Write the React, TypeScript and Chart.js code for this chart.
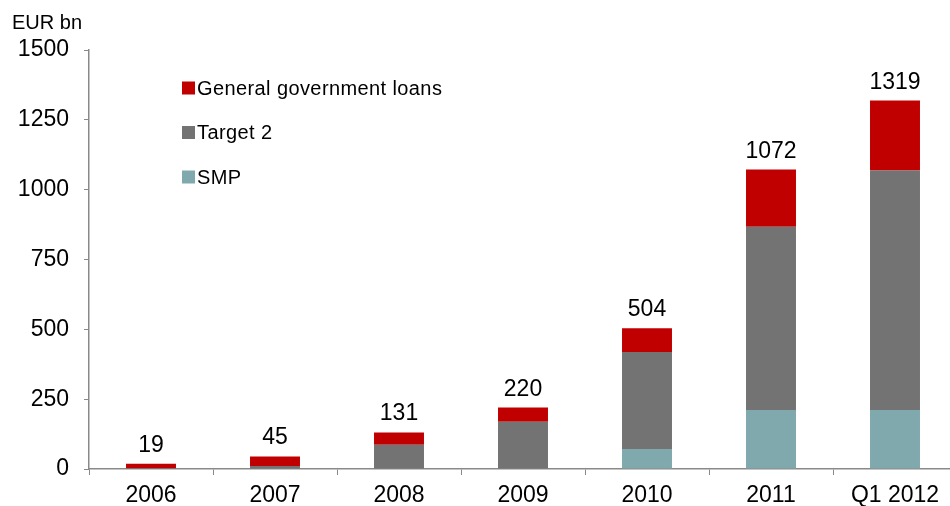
import { useEffect, useRef } from 'react';
import { Chart, registerables } from 'chart.js';

Chart.register(...registerables);

// Eurosystem exposure, EUR bn
const categories = ['2006', '2007', '2008', '2009', '2010', '2011', 'Q1 2012'];
const smp = [0, 0, 0, 0, 72, 211, 211];
const target2 = [3, 11, 87, 169, 347, 656, 858];
const ggLoans = [16, 34, 44, 51, 85, 205, 250];
const yTicks = [0, 250, 500, 750, 1000, 1250, 1500];

const FONT = "'Liberation Sans', Arial, Helvetica, sans-serif";
const RED = '#C00000';
const GREY = '#737373';
const TEAL = '#80A9AD';
const AXIS = '#898989';

const totalsPlugin = {
  id: 'stackTotals',
  afterDatasetsDraw(chart: any) {
    const { ctx } = chart;
    const yScale = chart.scales.y;
    const meta = chart.getDatasetMeta(0);
    ctx.save();
    ctx.font = `23px ${FONT}`;
    ctx.fillStyle = '#000';
    ctx.textAlign = 'center';
    ctx.textBaseline = 'alphabetic';
    categories.forEach((_, i) => {
      const total = chart.data.datasets.reduce((s: number, d: any) => s + d.data[i], 0);
      const x = meta.data[i].x;
      const y = yScale.getPixelForValue(total);
      ctx.fillText(String(total), x, y - 12);
    });
    ctx.restore();
  },
};

const legendPlugin = {
  id: 'insetLegend',
  afterDraw(chart: any) {
    const { ctx } = chart;
    const items = [...chart.data.datasets].reverse();
    ctx.save();
    ctx.font = `20px ${FONT}`;
    ctx.textBaseline = 'middle';
    ctx.textAlign = 'left';
    if ('letterSpacing' in ctx) (ctx as any).letterSpacing = '0.4px';
    items.forEach((d: any, i: number) => {
      const cy = 88 + i * 44.5;
      ctx.fillStyle = d.backgroundColor;
      ctx.fillRect(182, cy - 6.5, 13, 13);
      ctx.fillStyle = '#000';
      ctx.fillText(d.label, 197, cy + 1);
    });
    if ('letterSpacing' in ctx) (ctx as any).letterSpacing = '0px';
    // unit caption
    ctx.font = `20px ${FONT}`;
    ctx.fillText('EUR bn', 12, 23);
    ctx.restore();
  },
};

export default function App() {
  const canvasRef = useRef<HTMLCanvasElement | null>(null);

  useEffect(() => {
    const canvas = canvasRef.current;
    if (!canvas) return;
    const chart = new Chart(canvas, {
      type: 'bar',
      data: {
        labels: categories,
        datasets: [
          { label: 'SMP', data: smp, backgroundColor: TEAL },
          { label: 'Target 2', data: target2, backgroundColor: GREY },
          { label: 'General government loans', data: ggLoans, backgroundColor: RED },
        ],
      },
      options: {
        responsive: false,
        animation: false,
        devicePixelRatio: 1,
        layout: { padding: { top: 50, left: 0, right: 0, bottom: 0 } },
        datasets: {
          bar: { barPercentage: 0.403, categoryPercentage: 1 },
        },
        plugins: {
          legend: { display: false },
          tooltip: { enabled: false },
        },
        scales: {
          x: {
            stacked: true,
            grid: {
              display: true,
              drawOnChartArea: false,
              drawTicks: true,
              tickLength: 6,
              color: AXIS,
              offset: true,
            },
            border: { display: true, color: AXIS, width: 1.5 },
            ticks: {
              color: '#000',
              font: { family: FONT, size: 23 },
              padding: 7,
              maxRotation: 0,
            },
            afterFit(scale: any) {
              scale.height = 37;
            },
          },
          y: {
            stacked: true,
            min: 0,
            max: 1500,
            afterBuildTicks(scale: any) {
              scale.ticks = yTicks.map((v) => ({ value: v }));
            },
            grid: {
              display: true,
              drawOnChartArea: false,
              drawTicks: true,
              tickLength: 5,
              color: AXIS,
            },
            border: { display: true, color: AXIS, width: 1.5 },
            ticks: {
              color: '#000',
              font: { family: FONT, size: 23 },
              padding: 15,
              callback: (v: any) => String(v),
            },
            afterFit(scale: any) {
              scale.width = 89;
            },
          },
        },
      },
      plugins: [totalsPlugin, legendPlugin],
    });
    return () => chart.destroy();
  }, []);

  return (
    <div
      style={{
        position: 'fixed',
        left: 0,
        top: 0,
        width: 950,
        height: 506,
        overflow: 'hidden',
        background: '#fff',
      }}
    >
      <canvas ref={canvasRef} width={957} height={506} style={{ display: 'block' }} />
    </div>
  );
}
